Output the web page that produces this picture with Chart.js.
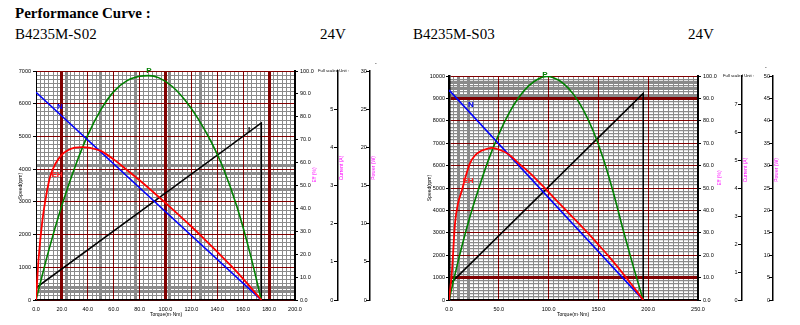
<!DOCTYPE html>
<html><head><meta charset="utf-8">
<script src="https://cdn.jsdelivr.net/npm/chart.js@4.4.1/dist/chart.umd.min.js"></script>
<style>
html,body{margin:0;padding:0;background:#fff;width:800px;height:325px;overflow:hidden;position:relative;}
.t{position:absolute;white-space:nowrap;line-height:1;}
.hd{font-family:'Liberation Serif','Times New Roman',serif;font-size:15px;color:#000;}
.sm{font-family:'Liberation Sans',Arial,sans-serif;font-size:5px;color:#000;}
.xs{font-family:'Liberation Sans',Arial,sans-serif;font-size:4.2px;color:#000;}
.mg{font-family:'Liberation Sans',Arial,sans-serif;font-size:5px;color:#ff00ff;}
.lb{font-family:'Liberation Sans',Arial,sans-serif;font-size:8px;font-weight:bold;}
.rot{transform:translate(-50%,-50%) rotate(-90deg);}
.ctr{transform:translate(-50%,-50%);}
.cv{position:absolute;top:60px;}
</style></head><body>
<div class="t hd" style="left:15px;top:6px;font-weight:bold;">Performance Curve :</div>
<div class="t hd" style="left:15px;top:27px;">B4235M-S02</div>
<div class="t hd" style="left:320px;top:27px;">24V</div>
<div class="t hd" style="left:413px;top:27px;">B4235M-S03</div>
<div class="t hd" style="left:688px;top:27px;">24V</div>

<canvas id="c1" class="cv" style="left:0px;" width="400" height="265"></canvas>
<canvas id="c2" class="cv" style="left:400px;" width="400" height="265"></canvas>

<!-- chart 1 texts -->
<div class="t sm rot" style="left:20px;top:186px;">Speed(rpm)</div>
<div class="t sm ctr" style="left:166px;top:314px;">Torque(m·Nm)</div>
<div class="t xs" style="left:318px;top:69px;">Full scaled Unit :</div>
<div class="t sm" style="left:375px;top:61px;">-</div>
<div class="t mg rot" style="left:314px;top:175px;">Eff (%)</div>
<div class="t mg rot" style="left:341px;top:168px;">Current (A)</div>
<div class="t mg rot" style="left:373px;top:168px;">Power (W)</div>
<div class="t lb ctr" style="left:60px;top:107px;color:#0000ff;">N</div>
<div class="t lb ctr" style="left:57px;top:175px;color:#ff2020;">EH</div>
<div class="t lb ctr" style="left:149px;top:71px;color:#008000;">P</div>
<div class="t lb ctr" style="left:249px;top:130px;color:#000;">I</div>

<!-- chart 2 texts -->
<div class="t sm rot" style="left:429px;top:188px;">Speed(rpm)</div>
<div class="t sm ctr" style="left:573px;top:314px;">Torque(m·Nm)</div>
<div class="t xs" style="left:723px;top:74px;">Full scaled Unit :</div>
<div class="t sm" style="left:765px;top:65px;">-</div>
<div class="t mg rot" style="left:719px;top:178px;">Eff (%)</div>
<div class="t mg rot" style="left:745px;top:170px;">Current (A)</div>
<div class="t mg rot" style="left:776px;top:170px;">Power (W)</div>
<div class="t lb ctr" style="left:471px;top:105px;color:#0000ff;">N</div>
<div class="t lb ctr" style="left:468px;top:181px;color:#ff2020;">EH</div>
<div class="t lb ctr" style="left:545px;top:75px;color:#008000;">P</div>
<div class="t lb ctr" style="left:633px;top:107px;color:#000;">I</div>

<script>
// ---------- DATA: B4235M-S02 ----------
const s02SpeedTorque = [0, 174];
const s02Speed = [6350, 0];
const s02CurrentTorque = [0, 174, 174];
const s02Current = [0.32, 4.64, 0];
const s02EffTorque = [0, 2, 5, 8, 11, 15, 20, 25, 30, 36, 42, 50, 60, 70, 80, 90, 100, 110, 120, 130, 140, 150, 160, 168, 174];
const s02Eff = [0, 18, 35, 46, 54, 59.5, 63.5, 65.5, 66.5, 66.8, 66.4, 65.1, 61.4, 56.9, 52.3, 47.4, 42.4, 37.3, 32.1, 26.6, 21.0, 15.3, 9.2, 4.0, 0];
const s02PowerTorque = [0, 10, 20, 30, 40, 50, 60, 70, 80, 87, 95, 105, 115, 125, 135, 145, 155, 165, 174];
const s02Power = [0, 6.6, 12.4, 17.4, 21.6, 24.9, 27.3, 28.7, 29.3, 29.4, 29.1, 28.0, 26.2, 23.8, 20.8, 17.1, 12.3, 6.3, 0];

// ---------- DATA: B4235M-S03 ----------
const s03SpeedTorque = [0, 195];
const s03Speed = [9375, 0];
const s03CurrentTorque = [0, 195, 195];
const s03Current = [0.54, 7.38, 0];
const s03EffTorque = [0, 3, 6, 9, 13, 16, 21, 26, 32, 38, 43, 50, 60, 70, 80, 90, 100, 110, 120, 130, 140, 150, 160, 170, 180, 188, 195];
const s03Eff = [0, 13, 34, 43, 49, 54, 61, 64.5, 66.5, 67.5, 67.9, 67.2, 65.0, 61.0, 57.2, 52.8, 48.2, 43.5, 38.9, 34.3, 29.6, 24.7, 19.7, 14.4, 8.8, 4.2, 0];
const s03PowerTorque = [0, 10, 20, 30, 40, 50, 60, 70, 80, 90, 98, 105, 115, 125, 135, 145, 155, 165, 175, 185, 195];
const s03Power = [0, 9.4, 17.8, 25.0, 31.5, 37.0, 41.6, 45.2, 47.8, 49.4, 49.9, 49.6, 48.3, 45.9, 42.4, 37.6, 31.5, 24.0, 15.5, 7.5, 0];

// ---------- AXES ----------
const s02Axes = { xMax: 200, xMajor: 20, xMinorPerMajor: 6, yMax: 7000, yMajor: 1000, yMinorPerMajor: 8, effMax: 100, effStep: 10, curMax: 6, curStep: 1, curLabelMax: 5, powMax: 30, powStep: 5 };
const s03Axes = { xMax: 250, xMajor: 50, xMinorPerMajor: 10, yMax: 10000, yMajor: 1000, yMinorPerMajor: 7, effMax: 100, effStep: 10, curMax: 8, curStep: 1, curLabelMax: 7, powMax: 50, powStep: 5 };

// ---------- STYLE / LAYOUT ----------
const GRAY = '#8a8a8a', DRED = '#800000';
const FONT = { family: "'Liberation Sans', Arial, sans-serif", size: 5.5 };
const layout1 = { padTop: 11, leftW: 36, effW: 105, xH: 25, curPos: 233.2, powPos: 257.9,
  xThickGray: [7, 15, 23, 31, 38], xThickRed: [1, 5, 9], yThickGray: [2, 3, 27, 31, 33], yThickRed: [],
  yGrayW: 1, leftBorder: 1, yLabelPad: 2 };
const layout2 = { padTop: 16, leftW: 49, effW: 102, xH: 25, curPos: 294.2, powPos: 325.3,
  xThickGray: [2, 4], xThickRed: [], yThickGray: [64, 66, 68], yThickRed: [1, 9], yGrayW: 1.3, leftBorder: 2.5, yLabelPad: 1 };

const pts = (xs, ys) => xs.map((x, i) => ({ x: x, y: ys[i] }));

function build(id, ax, ly, d) {
  const xMinor = [], xMajorT = [], yMinor = [], yMajorT = [];
  const nx = Math.round(ax.xMax / ax.xMajor) * ax.xMinorPerMajor;
  for (let i = 0; i <= nx; i++) xMinor.push(i * ax.xMax / nx);
  for (let v = 0; v <= ax.xMax + 1e-9; v += ax.xMajor) xMajorT.push(v);
  const ny = Math.round(ax.yMax / ax.yMajor) * ax.yMinorPerMajor;
  for (let i = 0; i <= ny; i++) yMinor.push(i * ax.yMax / ny);
  for (let v = 0; v <= ax.yMax + 1e-9; v += ax.yMajor) yMajorT.push(v);

  const lineDs = (label, data, yAxisID, color, w, smooth, order) => ({
    label, data, yAxisID, borderColor: color, backgroundColor: color, borderWidth: w,
    pointRadius: 0, fill: false, order,
    tension: smooth ? 0.4 : 0, cubicInterpolationMode: smooth ? 'monotone' : 'default'
  });

  new Chart(document.getElementById(id), {
    type: 'line',
    data: { datasets: [
      lineDs('EH', d.eff, 'yE', '#ff0000', 1.8, true, 1),
      lineDs('N', d.speed, 'y', '#0000ff', 1.6, false, 2),
      lineDs('P', d.power, 'yP', '#008000', 1.6, true, 3),
      lineDs('I', d.current, 'yI', '#000000', 1.5, false, 4)
    ]},
    options: {
      responsive: false, animation: false, events: [],
      layout: { padding: { top: ly.padTop, left: 0, right: 0, bottom: 0 } },
      plugins: { legend: { display: false }, tooltip: { enabled: false } },
      scales: {
        xg: { type: 'linear', position: 'bottom', min: 0, max: ax.xMax,
          afterBuildTicks: s => { s.ticks = xMinor.map(v => ({ value: v })); },
          afterFit: s => { s.height = 0; },
          ticks: { display: false, autoSkip: false },
          border: { display: false },
          grid: { z: -3, drawTicks: false,
            color: c => (c.index % ax.xMinorPerMajor === 0) ? 'rgba(0,0,0,0)' : GRAY,
            lineWidth: c => ly.xThickGray.includes(c.index) ? 3 : 1 } },
        yg: { type: 'linear', position: 'left', min: 0, max: ax.yMax,
          afterBuildTicks: s => { s.ticks = yMinor.map(v => ({ value: v })); },
          afterFit: s => { s.width = 0; },
          ticks: { display: false, autoSkip: false },
          border: { display: false },
          grid: { z: -3, drawTicks: false,
            color: c => (c.index % ax.yMinorPerMajor === 0) ? 'rgba(0,0,0,0)' : GRAY,
            lineWidth: c => ly.yThickGray.includes(c.index) ? 3 : ly.yGrayW } },
        x: { type: 'linear', position: 'bottom', min: 0, max: ax.xMax,
          afterBuildTicks: s => { s.ticks = xMajorT.map(v => ({ value: v })); },
          afterFit: s => { s.height = ly.xH; },
          ticks: { autoSkip: false, maxRotation: 0, minRotation: 0, padding: 6, font: FONT, color: '#000',
            callback: v => Number(v).toFixed(1) },
          border: { color: '#000', width: 1.6 },
          grid: { z: -1, drawTicks: false, color: DRED,
            lineWidth: c => ly.xThickRed.includes(c.index) ? 3 : 1 } },
        y: { type: 'linear', position: 'left', min: 0, max: ax.yMax,
          afterBuildTicks: s => { s.ticks = yMajorT.map(v => ({ value: v })); },
          afterFit: s => { s.width = ly.leftW; },
          ticks: { autoSkip: false, padding: ly.yLabelPad, font: FONT, color: '#000',
            callback: v => String(Math.round(v)) },
          border: { color: '#000', width: ly.leftBorder },
          grid: { z: -1, drawTicks: true, tickLength: 3, tickColor: '#000', tickWidth: 1, color: DRED,
            lineWidth: c => ly.yThickRed.includes(c.index) ? 3 : 1 } },
        yE: { type: 'linear', position: 'right', min: 0, max: ax.effMax,
          afterFit: s => { s.width = ly.effW; },
          ticks: { stepSize: ax.effStep, autoSkip: false, padding: 2, font: FONT, color: '#000',
            callback: v => Number(v).toFixed(1) },
          border: { color: '#000', width: 2 },
          grid: { drawOnChartArea: false, drawTicks: true, tickLength: 3, tickColor: '#000', color: '#000' } },
        yI: { type: 'linear', position: { x: ly.curPos }, min: 0, max: ax.curMax,
          ticks: { stepSize: ax.curStep, autoSkip: false, font: FONT, color: '#000',
            callback: v => (v <= ax.curLabelMax ? String(v) + '   ' : '') },
          border: { color: '#000', width: 1.5 },
          grid: { drawOnChartArea: false, drawTicks: true, tickLength: 3, color: '#000',
            tickColor: c => (c.tick && c.tick.value <= ax.curLabelMax) ? '#000' : 'rgba(0,0,0,0)' } },
        yP: { type: 'linear', position: { x: ly.powPos }, min: 0, max: ax.powMax,
          ticks: { stepSize: ax.powStep, autoSkip: false, font: FONT, color: '#000',
            callback: v => String(v) + '  ' },
          border: { color: '#000', width: 1.5 },
          grid: { drawOnChartArea: false, drawTicks: true, tickLength: 3, tickColor: '#000', color: '#000' } }
      }
    }
  });
}

build('c1', s02Axes, layout1, {
  speed: pts(s02SpeedTorque, s02Speed), current: pts(s02CurrentTorque, s02Current),
  eff: pts(s02EffTorque, s02Eff), power: pts(s02PowerTorque, s02Power) });
build('c2', s03Axes, layout2, {
  speed: pts(s03SpeedTorque, s03Speed), current: pts(s03CurrentTorque, s03Current),
  eff: pts(s03EffTorque, s03Eff), power: pts(s03PowerTorque, s03Power) });
</script>
</body></html>
